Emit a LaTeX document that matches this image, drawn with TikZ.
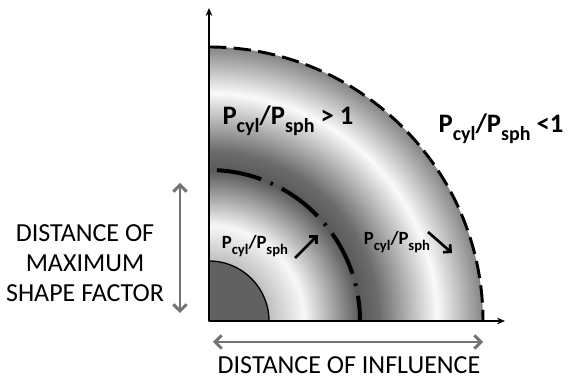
\documentclass[tikz,border=0pt]{standalone}
\usepackage{fontspec}
\setmainfont{Carlito}
\usetikzlibrary{arrows.meta,positioning}
\pgfdeclareradialshading{band}{\pgfpoint{0bp}{0bp}}{color(0bp)=(black!30); color(5.45bp)=(black!25); color(8.7bp)=(black!3); color(13.75bp)=(black!65); color(15.5bp)=(black!58); color(20.8bp)=(black!2); color(25bp)=(black!48); color(50bp)=(black!48)}
\tikzstyle{big}=[font=\fontsize{20}{22}\selectfont\bfseries]
\tikzstyle{small}=[font=\fontsize{14}{16}\selectfont\bfseries]
\tikzstyle{dimlabel}=[font=\fontsize{19.5}{22.5}\selectfont,align=center,inner sep=1pt]
\tikzstyle{axis}=[-{Stealth[length=6pt,width=5pt]},line width=1.5pt]
\tikzstyle{dim}=[{Straight Barb[length=5pt,width=10pt]}-{Straight Barb[length=5pt,width=10pt]},line width=2.2pt,draw=black!55]
\tikzstyle{trend}=[-{Straight Barb[length=4pt,width=8pt]},line width=2pt]
% ratio with enlarged subscripts, #1 = subscript size
\newcommand{\pratio}[1]{P\raisebox{-0.3em}{\fontsize{#1}{#1}\selectfont cyl}/P\raisebox{-0.3em}{\fontsize{#1}{#1}\selectfont sph}}

\begin{document}
\begin{tikzpicture}[x=0.75pt,y=0.75pt]
\useasboundingbox (-209,-57) rectangle (362,321);
% shaded quarter
\begin{scope}
\clip (0,0) rectangle (274,274);
\shade[shading=band] (0,0) circle[radius=205.5pt];
\end{scope}
\filldraw[fill=black!62,line width=1pt] (0,0) -- (60,0) arc[start angle=0,end angle=90,radius=45pt] -- cycle;
% boundaries
\draw[line width=3pt,dash pattern=on 34pt off 7.5pt on 2pt off 7.5pt,dash phase=15pt] (151,0) arc[start angle=0,end angle=90,radius=113.25pt];
\draw[line width=2.2pt,dash pattern=on 13pt off 5.5pt] (0,274) arc[start angle=90,end angle=0,radius=205.5pt];
% axes
\coordinate (O) at (0,0);
\coordinate (ytip) at (0,313);
\coordinate (xtip) at (296,0);
\draw[axis] (O) -- (ytip);
\draw[axis] (O) -- (xtip);
% labels
\node[big] (hi) at (79,200) {\pratio{15} > 1};
\node[big] (lo) at (292,192) {\pratio{15} <1};
\node[small] (inL) at (46,75) {\pratio{11}};
\node[small] (outL) at (188,79) {\pratio{11}};
\coordinate (upA) at (86,63);
\coordinate (upB) at (109,86);
\coordinate (dnA) at (219,89);
\coordinate (dnB) at (243,68);
\draw[trend] (upA) -- (upB);
\draw[trend] (dnA) -- (dnB);
% dimensions
\node[dimlabel] (msf) at (-124,58) {DISTANCE OF\\MAXIMUM\\SHAPE FACTOR};
\node[dimlabel,anchor=base] (doi) at (140,-52) {DISTANCE OF INFLUENCE};
\coordinate (msfT) at (-29,138);
\coordinate (msfB) at (-29,8);
\coordinate (doiL) at (4,-21);
\coordinate (doiR) at (274,-21);
\draw[dim] (msfB) -- (msfT);
\draw[dim] (doiL) -- (doiR);
\end{tikzpicture}
\end{document}
